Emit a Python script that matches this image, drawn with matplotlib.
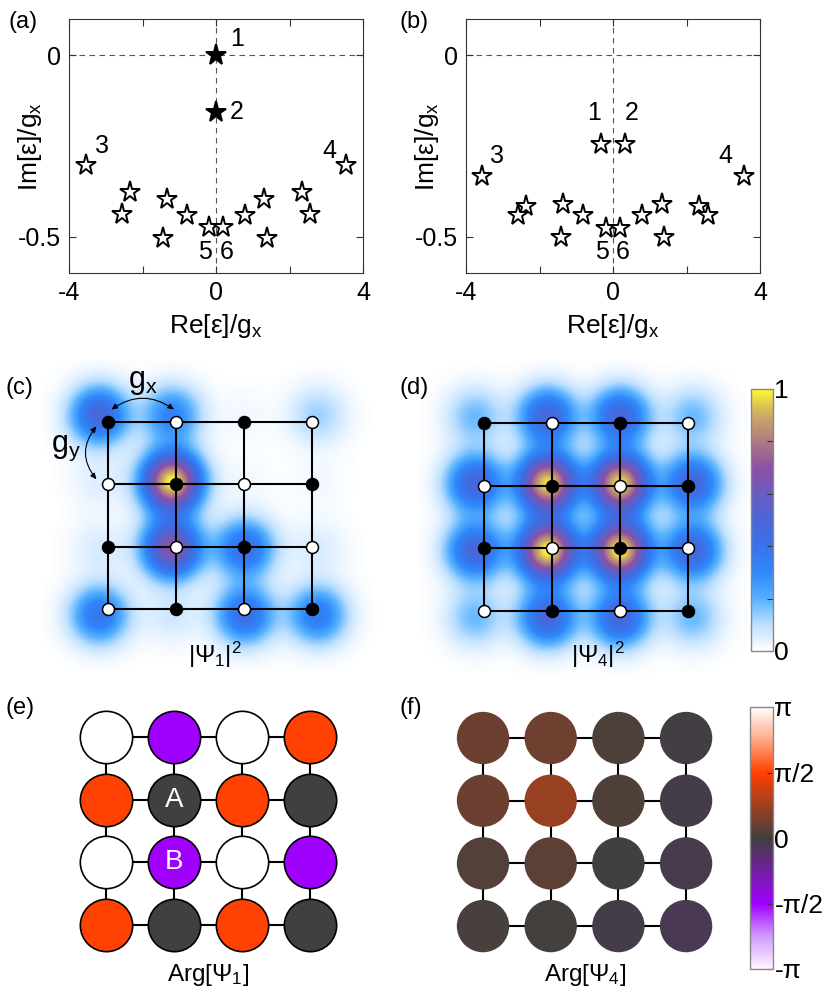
import numpy as np
import matplotlib
matplotlib.use('Agg')
import matplotlib.pyplot as plt
from matplotlib.colors import LinearSegmentedColormap, Normalize
from matplotlib.patches import FancyArrowPatch
from matplotlib.cm import ScalarMappable

plt.rcParams['font.family'] = ['Liberation Sans', 'DejaVu Sans']
plt.rcParams['mathtext.fontset'] = 'custom'
plt.rcParams['mathtext.rm'] = 'Liberation Sans'
plt.rcParams['mathtext.it'] = 'Liberation Sans:italic'
plt.rcParams['mathtext.sf'] = 'Liberation Sans'

W, H = 830, 993

# ---------------- data ----------------
# spectrum (a): first six entries are states 1..6
re_a = [0.00, 0.00, -3.53, 3.53, -0.20, 0.20,
        -2.35, -2.55, -1.32, -0.78, -1.43, 0.78, 1.30, 1.38, 2.33, 2.57]
im_a = [0.000, -0.155, -0.301, -0.301, -0.473, -0.473,
        -0.376, -0.437, -0.396, -0.439, -0.503, -0.439, -0.396, -0.503, -0.376, -0.437]
filled_a = [True, True] + [False] * 14

# spectrum (b)
re_b = [-0.326, 0.317, -3.57, 3.57, -0.19, 0.18,
        -2.38, -2.58, -1.36, -0.81, -1.41, 0.79, 1.33, 1.38, 2.34, 2.58]
im_b = [-0.244, -0.244, -0.333, -0.333, -0.475, -0.475,
        -0.416, -0.441, -0.409, -0.441, -0.501, -0.441, -0.409, -0.501, -0.416, -0.441]
filled_b = [False] * 16

state_labels = ['1', '2', '3', '4', '5', '6']
# label offsets (points) for states 1..6
offs_a = [(15, 11.5), (15, 0), (11.5, 13), (-11.5, 9.5), (-2.7, -18), (2.4, -18)]
offs_b = [(-4.8, 22), (5.3, 22), (10.8, 14.4), (-13.9, 14.4), (-2.9, -17.5), (2.4, -17.5)]

# |psi|^2 on the 4x4 lattice (rows top->bottom)
psi1_sq = np.array([[0.48, 0.32, 0.02, 0.13],
                    [0.05, 1.00, 0.02, 0.02],
                    [0.06, 0.70, 0.42, 0.06],
                    [0.38, 0.07, 0.42, 0.36]])
psi4_sq = np.array([[0.18, 0.48, 0.48, 0.18],
                    [0.48, 0.97, 0.97, 0.48],
                    [0.48, 1.00, 1.00, 0.48],
                    [0.18, 0.48, 0.48, 0.18]])
# sublattice: 1 = filled (black), 0 = open (white)
sublattice = np.array([[1, 0, 1, 0],
                       [0, 1, 0, 1],
                       [1, 0, 1, 0],
                       [0, 1, 0, 1]])

# phases (units of pi for arg1, radians for arg4)
arg1 = np.array([[1.0, -0.5, 1.0, 0.5],
                 [0.5, 0.0, 0.5, 0.0],
                 [1.0, -0.5, 1.0, -0.5],
                 [0.5, 0.0, 0.5, 0.0]]) * np.pi
arg4 = np.array([[0.35, 0.39, 0.11, -0.04],
                 [0.35, 0.72, 0.14, -0.09],
                 [0.17, 0.23, 0.01, -0.12],
                 [0.05, 0.04, -0.08, -0.15]])

int_ticks = [0, 0.2, 0.4, 0.6, 0.8, 1.0]
int_ticklabels = ['0', '', '', '', '', '1']
phase_ticks = [-np.pi, -np.pi / 2, 0, np.pi / 2, np.pi]
phase_ticklabels = ['-π', '-π/2', '0', 'π/2', 'π']

# ---------------- colormaps ----------------
cmap_int = LinearSegmentedColormap.from_list('int', [
    (0.00, '#ffffff'), (0.10, '#bcdfff'), (0.20, '#55b0ff'), (0.30, '#2f88fb'),
    (0.40, '#3a72ea'), (0.50, '#4a66d6'), (0.60, '#6a5cc0'), (0.70, '#8c50a6'),
    (0.80, '#ac7a84'), (0.90, '#cca866'), (1.00, '#fff830')])
cmap_ph = LinearSegmentedColormap.from_list('ph', [
    (0.00, '#fff6ff'), (0.125, '#cf98ff'), (0.25, '#a000ff'), (0.50, '#404040'),
    (0.75, '#ff4000'), (0.875, '#ffa585'), (1.00, '#ffffff')])

fig = plt.figure(figsize=(W / 100, H / 100), dpi=100)


def px_axes(left, top, right, bottom):
    return fig.add_axes([left / W, 1 - bottom / H, (right - left) / W, (bottom - top) / H])


def ftext(x, y, s, **kw):
    fig.text(x / W, 1 - y / H, s, **kw)


# ---------------- spectra ----------------
def spectrum(ax, re, im, filled, offs):
    ax.set_xlim(-4, 4)
    ax.set_ylim(-0.6, 0.1)
    ax.axhline(0, color='#555555', ls=(0, (5, 4)), lw=0.8, zorder=1)
    ax.axvline(0, color='#555555', ls=(0, (5, 4)), lw=0.8, zorder=1)
    for x, y, f in zip(re, im, filled):
        ax.plot(x, y, marker='*', ms=15.5, mfc='black' if f else 'white', mec='black',
                mew=1.4, ls='none', zorder=3)
    for lab, x, y, o in zip(state_labels, re, im, offs):
        ax.annotate(lab, (x, y), xytext=o, textcoords='offset points',
                    ha='center', va='center', fontsize=18)
    ax.set_xticks([-4, -2, 0, 2, 4])
    ax.set_xticklabels(['-4', '', '0', '', '4'])
    ax.set_yticks([-0.5, 0])
    ax.set_yticklabels(['-0.5', '0'])
    ax.tick_params(direction='in', length=5, top=True, right=True, labelsize=18,
                   width=0.8, color='#333333', pad=6)
    for sp in ax.spines.values():
        sp.set_color('#333333')
        sp.set_linewidth(0.8)
    ax.set_xlabel('Re[ε]/g$_\\mathrm{x}$', fontsize=19, labelpad=5)
    ax.set_ylabel('Im[ε]/g$_\\mathrm{x}$', fontsize=19)
    ax.yaxis.set_label_coords(-0.085, 0.5)


ax_a = px_axes(69, 19, 363, 273)
spectrum(ax_a, re_a, im_a, filled_a, offs_a)
ax_b = px_axes(466, 19, 760, 273)
spectrum(ax_b, re_b, im_b, filled_b, offs_b)


# ---------------- lattice helpers ----------------
def lattice_axes(x0, y0, dx, dy, pad=1.0):
    ax = px_axes(x0 - pad * dx, y0 - pad * dy, x0 + (3 + pad) * dx, y0 + (3 + pad) * dy)
    ax.set_xlim(-pad, 3 + pad)
    ax.set_ylim(3 + pad, -pad)
    ax.axis('off')
    return ax


def density(ax, amp, dx, dy, pad=1.0, sig_px=20.0, spread=1.07):
    n = 500
    xs = np.linspace(-pad, 3 + pad, n)
    ys = np.linspace(-pad, 3 + pad, n)
    X, Y = np.meshgrid(xs, ys)
    sx, sy = sig_px / dx, sig_px / dy
    F = np.zeros_like(X)
    for i in range(4):
        for j in range(4):
            cx = 1.5 + (j - 1.5) * spread - 0.03
            cy = 1.5 + (i - 1.5) * spread
            F += amp[i, j] * np.exp(-((X - cx) ** 2 / (2 * sx ** 2) + (Y - cy) ** 2 / (2 * sy ** 2)))
    F = F / F.max()
    ax.imshow(F, extent=(-pad, 3 + pad, 3 + pad, -pad), cmap=cmap_int, vmin=0, vmax=1,
              interpolation='bilinear', aspect='auto', zorder=0)


def lattice_lines(ax, lw=1.5):
    for k in range(4):
        ax.plot([0, 3], [k, k], color='black', lw=lw, zorder=1, solid_capstyle='butt')
        ax.plot([k, k], [0, 3], color='black', lw=lw, zorder=1, solid_capstyle='butt')


def lattice_nodes(ax):
    for i in range(4):
        for j in range(4):
            black = sublattice[i, j] == 1
            ax.plot(j, i, 'o', ms=8.6, mfc='black' if black else 'white', mec='black',
                    mew=1.1, zorder=3)


# (c)
dxc, dyc = 68.0, 62.3
ax_c = lattice_axes(108, 422, dxc, dyc)
density(ax_c, psi1_sq, dxc, dyc)
lattice_lines(ax_c)
lattice_nodes(ax_c)
arr_x = FancyArrowPatch((0.05, -0.2), (0.97, -0.2), connectionstyle='arc3,rad=-0.35',
                        arrowstyle='<|-|>,head_length=3.5,head_width=1.6', lw=0.8,
                        color='black', zorder=4, shrinkA=0, shrinkB=0)
ax_c.add_patch(arr_x)
arr_y = FancyArrowPatch((-0.17, 0.07), (-0.17, 0.92), connectionstyle='arc3,rad=0.4',
                        arrowstyle='<|-|>,head_length=3.5,head_width=1.6', lw=0.8,
                        color='black', zorder=4, shrinkA=0, shrinkB=0)
ax_c.add_patch(arr_y)

# (d)
dxd, dyd = 68.0, 62.7
ax_d = lattice_axes(484, 423, dxd, dyd)
density(ax_d, psi4_sq, dxd, dyd)
lattice_lines(ax_d)
lattice_nodes(ax_d)

# colorbar for intensity
cax1 = px_axes(751, 389, 773, 651)
cb1 = fig.colorbar(ScalarMappable(norm=Normalize(0, 1), cmap=cmap_int), cax=cax1)
cb1.set_ticks(int_ticks)
cb1.set_ticklabels(int_ticklabels)
cb1.ax.tick_params(direction='in', length=4, width=0.8, labelsize=19, pad=1, color='#333333')
cb1.outline.set_edgecolor('#888888')
cb1.outline.set_linewidth(1.0)


# (e) and (f)
def phase_panel(ax, ph, edges):
    lattice_lines(ax, lw=1.5)
    cols = cmap_ph(Normalize(-np.pi, np.pi)(ph))
    for i in range(4):
        for j in range(4):
            ax.scatter(j, i, s=1420, color=cols[i, j],
                       edgecolors='black' if edges else 'none',
                       linewidths=1.2 if edges else 0, zorder=3)


dxe, dye = 68.0, 62.7
ax_e = lattice_axes(106, 737, dxe, dye)
phase_panel(ax_e, arg1, True)
ax_e.text(1, 1, 'A', color='white', fontsize=20, ha='center', va='center', zorder=5)
ax_e.text(1, 2, 'B', color='white', fontsize=20, ha='center', va='center', zorder=5)

ax_f = lattice_axes(483, 738, 67.7, 62.7)
phase_panel(ax_f, arg4, False)

cax2 = px_axes(750, 707, 773, 969)
cb2 = fig.colorbar(ScalarMappable(norm=Normalize(-np.pi, np.pi), cmap=cmap_ph), cax=cax2)
cb2.set_ticks(phase_ticks)
cb2.set_ticklabels(phase_ticklabels)
cb2.ax.tick_params(direction='in', length=4, width=0.8, labelsize=19, pad=1, color='#333333')
cb2.outline.set_edgecolor('#888888')
cb2.outline.set_linewidth(1.0)

# ---------------- texts ----------------
ftext(143, 382, 'g$_\\mathrm{x}$', fontsize=22, ha='center', va='center')
ftext(66, 448, 'g$_\\mathrm{y}$', fontsize=22, ha='center', va='center')

ftext(215, 655, '|Ψ$_\\mathrm{1}$|$^\\mathrm{2}$', fontsize=17.5, ha='center', va='center')
ftext(598, 655, '|Ψ$_\\mathrm{4}$|$^\\mathrm{2}$', fontsize=17.5, ha='center', va='center')
ftext(208, 975, 'Arg[Ψ$_\\mathrm{1}$]', fontsize=17.5, ha='center', va='center')
ftext(585, 975, 'Arg[Ψ$_\\mathrm{4}$]', fontsize=17.5, ha='center', va='center')

for lab, x, y in [('(a)', 8, 22), ('(b)', 399, 22), ('(c)', 5, 388), ('(d)', 399, 388),
                  ('(e)', 5, 708), ('(f)', 399, 708)]:
    ftext(x, y, lab, fontsize=17, ha='left', va='center')

fig.savefig('out.png', dpi=100)
